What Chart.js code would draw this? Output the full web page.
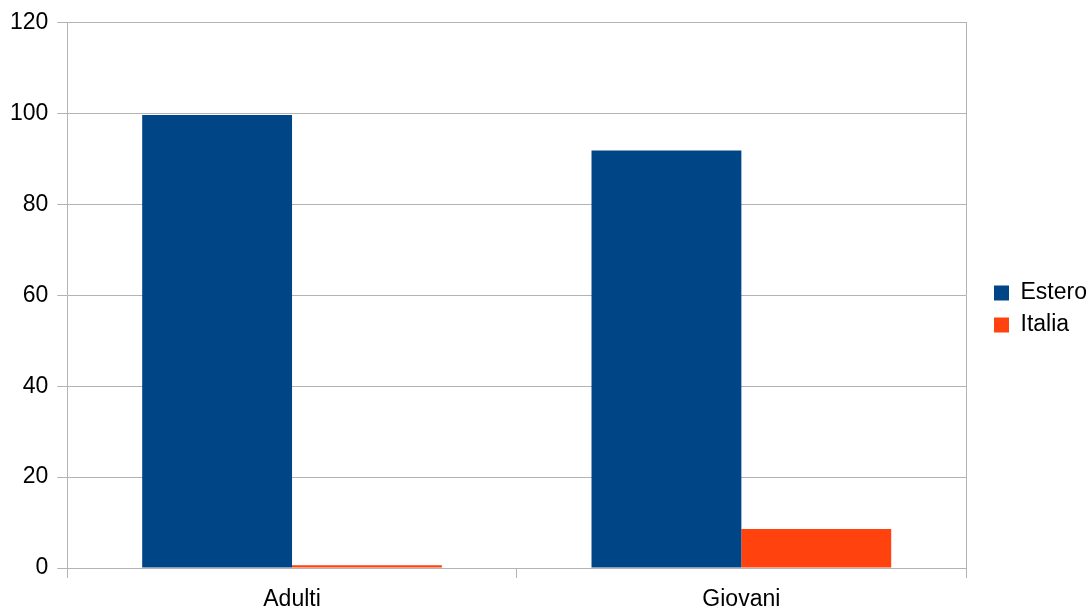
<!DOCTYPE html>
<html>
<head>
<meta charset="utf-8">
<script src="https://cdn.jsdelivr.net/npm/chart.js@4/dist/chart.umd.min.js"></script>
<style>
  html, body { margin: 0; padding: 0; background: #fff; }
  #wrap { width: 1092px; height: 608px; }
</style>
</head>
<body>
<div id="wrap"><canvas id="chart" width="1092" height="608"></canvas></div>
<script>
const categories = ["Adulti", "Giovani"];
const estero = [99.7, 91.9];
const italia = [0.6, 8.6];
const yMin = 0, yMax = 120, yStep = 20;

const gridGray = "#b3b3b3";
const font = { family: "'Liberation Sans', Arial, sans-serif", size: 23 };

new Chart(document.getElementById("chart"), {
    type: "bar",
    data: {
        labels: categories,
        datasets: [
            { label: "Estero", data: estero, backgroundColor: "#004586" },
            { label: "Italia", data: italia, backgroundColor: "#ff420e" }
        ]
    },
    options: {
        responsive: false,
        animation: false,
        layout: { padding: { top: 10, left: 1, right: -5, bottom: 0 } },
        datasets: { bar: { categoryPercentage: 0.667, barPercentage: 1 } },
        plugins: {
            legend: {
                position: "right",
                labels: {
                    color: "#000",
                    font: font,
                    boxWidth: 15,
                    boxHeight: 15,
                    padding: 9
                }
            },
            tooltip: { enabled: false }
        },
        scales: {
            x: {
                grid: { offset: true, drawOnChartArea: false, tickLength: 10, color: gridGray },
                border: { color: gridGray },
                ticks: { color: "#000", font: font, padding: 8 },
                afterFit: s => { s.height = 40; }
            },
            y: {
                min: yMin,
                max: yMax,
                grid: { color: gridGray, tickLength: 10 },
                border: { color: gridGray },
                ticks: { stepSize: yStep, color: "#000", font: font, padding: 9 }
            },
            y2: {
                position: "right",
                min: yMin,
                max: yMax,
                grid: { display: false },
                border: { color: gridGray },
                ticks: { display: false },
                afterFit: s => { s.width = 19; }
            }
        }
    }
});
</script>
</body>
</html>
